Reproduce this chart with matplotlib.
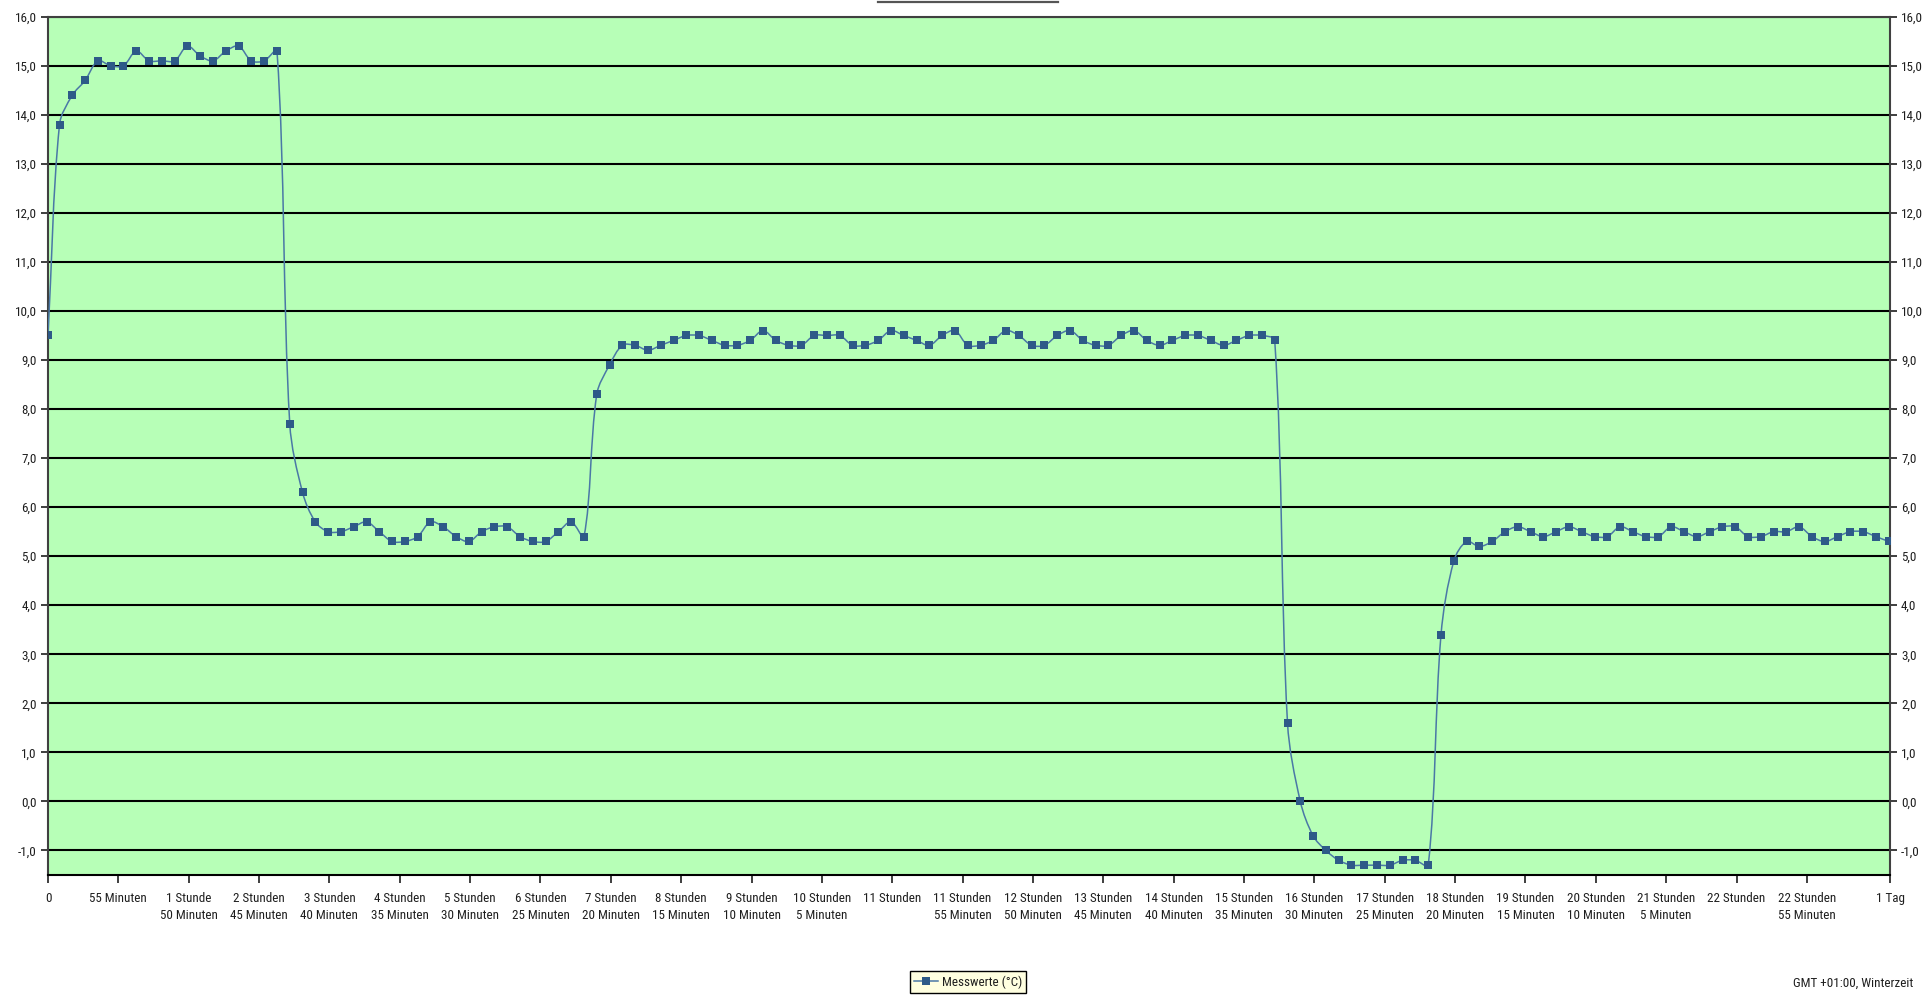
import numpy as np
import matplotlib
matplotlib.use("Agg")
import matplotlib.pyplot as plt
from matplotlib import font_manager as fm
from matplotlib.font_manager import FontProperties
from matplotlib.path import Path
from matplotlib.patches import PathPatch
from matplotlib.lines import Line2D
from matplotlib.textpath import TextPath
from matplotlib.ticker import FixedLocator, FuncFormatter

# Measurement times in minutes since start (one sample every 10 minutes)
sample_minutes = [0] + list(range(9, 1440, 10))

# Temperature readings (°C)
warm_phase = [9.5, 13.8, 14.4, 14.7, 15.1, 15.0, 15.0, 15.3, 15.1, 15.1, 15.1,
              15.4, 15.2, 15.1, 15.3, 15.4, 15.1, 15.1, 15.3]
cool_phase = [7.7, 6.3, 5.7, 5.5, 5.5, 5.6, 5.7, 5.5, 5.3, 5.3, 5.4, 5.7, 5.6,
              5.4, 5.3, 5.5, 5.6, 5.6, 5.4, 5.3, 5.3, 5.5, 5.7, 5.4]
mid_phase = [8.3, 8.9, 9.3, 9.3, 9.2, 9.3, 9.4, 9.5, 9.5, 9.4, 9.3, 9.3, 9.4,
             9.6, 9.4, 9.3,
             9.3, 9.5, 9.5, 9.5, 9.3, 9.3, 9.4, 9.6, 9.5, 9.4, 9.3, 9.5, 9.6,
             9.3, 9.3, 9.4, 9.6, 9.5, 9.3, 9.3, 9.5, 9.6, 9.4, 9.3, 9.3, 9.5,
             9.6, 9.4, 9.3, 9.4, 9.5, 9.5, 9.4, 9.3, 9.4, 9.5, 9.5, 9.4]
freeze_phase = [1.6, 0.0, -0.7, -1.0, -1.2, -1.3, -1.3, -1.3, -1.3, -1.2, -1.2,
                -1.3, 3.4]
final_phase = [4.9, 5.3, 5.2, 5.3, 5.5, 5.6, 5.5, 5.4, 5.5, 5.6, 5.5, 5.4, 5.4,
               5.6, 5.5, 5.4, 5.4, 5.6, 5.5, 5.4, 5.5, 5.6, 5.6, 5.4, 5.4, 5.5,
               5.5, 5.6, 5.4, 5.3, 5.4, 5.5, 5.5, 5.4, 5.3]
temperatures = warm_phase + cool_phase + mid_phase + freeze_phase + final_phase

# X-axis ticks (every 55 minutes) and their labels
tick_minutes = [0, 55, 110, 165, 220, 275, 330, 385, 440, 495, 550, 605, 660,
                715, 770, 825, 880, 935, 990, 1045, 1100, 1155, 1210, 1265,
                1320, 1375, 1440]
tick_labels = ["0", "55 Minuten", "1 Stunde\n50 Minuten", "2 Stunden\n45 Minuten",
               "3 Stunden\n40 Minuten", "4 Stunden\n35 Minuten", "5 Stunden\n30 Minuten",
               "6 Stunden\n25 Minuten", "7 Stunden\n20 Minuten", "8 Stunden\n15 Minuten",
               "9 Stunden\n10 Minuten", "10 Stunden\n5 Minuten", "11 Stunden",
               "11 Stunden\n55 Minuten", "12 Stunden\n50 Minuten", "13 Stunden\n45 Minuten",
               "14 Stunden\n40 Minuten", "15 Stunden\n35 Minuten", "16 Stunden\n30 Minuten",
               "17 Stunden\n25 Minuten", "18 Stunden\n20 Minuten", "19 Stunden\n15 Minuten",
               "20 Stunden\n10 Minuten", "21 Stunden\n5 Minuten", "22 Stunden",
               "22 Stunden\n55 Minuten", "1 Tag"]
y_ticks = list(range(-1, 17))


def narrow_font():
    """Pick the narrowest installed sans-serif regular face."""
    files = [e.fname for e in fm.fontManager.ttflist]
    prefs = ["liberationsansnarrow-regular", "arialn", "robotocondensed-regular",
             "opensans_condensed-regular", "opensanscondensed-regular",
             "dejavusanscondensed.ttf"]
    for key in prefs:
        for f in files:
            if key in f.lower().replace(" ", "").replace("_", ""):
                return FontProperties(fname=f)
    for f in files:
        low = f.lower()
        if ("condensed" in low or "narrow" in low) and "bold" not in low \
                and "italic" not in low and "oblique" not in low:
            return FontProperties(fname=f)
    return FontProperties(family="Liberation Sans")


base_font = narrow_font()
# size the labels so that "17 Stunden" is about 56 px wide at 100 dpi
w100 = TextPath((0, 0), "17 Stunden", size=100, prop=base_font).get_extents().width
fs = min(11.5, 56 * 72 / 100 / (w100 / 100))
label_font = base_font.copy()
label_font.set_size(fs)

line_color = "#4A78A6"
marker_color = "#2E5A88"
text_color = "#1E1E1E"

fig = plt.figure(figsize=(19.32, 10.0), dpi=100)
ax_left, ax_right, ax_top, ax_bottom = 48, 1890, 16.7, 875
ax = fig.add_axes([ax_left / 1932, 1 - ax_bottom / 1000,
                   (ax_right - ax_left) / 1932, (ax_bottom - ax_top) / 1000])
ax.set_facecolor("#B7FFB7")
ax.set_xlim(0, 1440)
ax.set_ylim(-1.5, 16)

# Smoothed connecting curve: Bezier segments whose handle lengths scale with
# the on-screen length of the neighbouring segments
xs = np.asarray(sample_minutes, dtype=float)
ys = np.asarray(temperatures, dtype=float)
pts = np.column_stack([xs, ys])
px = np.array([(ax_right - ax_left) / 1440.0, (ax_bottom - ax_top) / 17.5])


def scr_dist(a, b):
    return float(np.hypot(*((a - b) * px)))


verts = [pts[0]]
codes = [Path.MOVETO]
n = len(pts)
for i in range(n - 1):
    p0 = pts[i - 1] if i > 0 else pts[i]
    p1 = pts[i]
    p2 = pts[i + 1]
    p3 = pts[i + 2] if i + 2 < n else pts[i + 1]
    d01, d12, d23 = scr_dist(p0, p1), scr_dist(p1, p2), scr_dist(p2, p3)
    f1 = d12 / (d01 + d12) if d01 + d12 > 0 else 0.5
    f2 = d12 / (d12 + d23) if d12 + d23 > 0 else 0.5
    c1 = p1 + (p2 - p0) * f1 / 3.0
    c2 = p2 - (p3 - p1) * f2 / 3.0
    verts.extend([c1, c2, p2])
    codes.extend([Path.CURVE4] * 3)
ax.add_patch(PathPatch(Path(verts, codes), facecolor="none", edgecolor=line_color,
                       lw=1.1, zorder=3))
ax.plot(xs, ys, linestyle="none", marker="s", ms=5.4, color=marker_color,
        markeredgewidth=0, zorder=4)

# Axes, ticks and grid
ax.yaxis.set_major_locator(FixedLocator(y_ticks))
ax.yaxis.set_major_formatter(FuncFormatter(lambda v, p: f"{v:.1f}".replace(".", ",")))
ax.set_xticks(tick_minutes)
ax.set_xticklabels(tick_labels, linespacing=1.45)
ax.tick_params(axis="y", which="both", left=True, right=True, labelleft=True,
               labelright=True, direction="out", length=5, width=1.2, pad=3,
               colors=text_color)
ax.tick_params(axis="x", direction="out", length=6, width=1.2, pad=6,
               colors=text_color)
for lbl in ax.get_xticklabels():
    lbl.set_fontproperties(label_font)
for tick in ax.yaxis.get_major_ticks():
    tick.label1.set_fontproperties(label_font)
    tick.label2.set_fontproperties(label_font)
ax.grid(axis="y", color="black", lw=1.5, zorder=1)
ax.set_axisbelow(True)
for side in ["left", "right", "top"]:
    ax.spines[side].set_color("#404040")
    ax.spines[side].set_linewidth(1.5)
ax.spines["bottom"].set_color("black")
ax.spines["bottom"].set_linewidth(1.5)

# Title underline at the top edge
fig.add_artist(Line2D([878 / 1932, 1058 / 1932], [0.9985, 0.9985],
                      color="#555555", lw=1.6, transform=fig.transFigure))

# Legend
handle = Line2D([], [], color=line_color, lw=1.1, marker="s", ms=6,
                markerfacecolor=marker_color, markeredgewidth=0)
leg = fig.legend([handle], ["Messwerte (°C)"], loc="center",
                 bbox_to_anchor=(968 / 1932, 1 - 982 / 1000), prop=label_font,
                 frameon=True, fancybox=False, edgecolor="black",
                 facecolor="#FFFFE0", framealpha=1, handlelength=1.8,
                 handletextpad=0.3, borderpad=0.35, borderaxespad=0)
leg.get_frame().set_linewidth(1.0)
for t in leg.get_texts():
    t.set_color(text_color)

fig.text(1913 / 1932, 1 - 983 / 1000, "GMT +01:00, Winterzeit", ha="right",
         va="center", fontproperties=label_font, color=text_color)

fig.savefig("out.png", dpi=100, facecolor="white")
